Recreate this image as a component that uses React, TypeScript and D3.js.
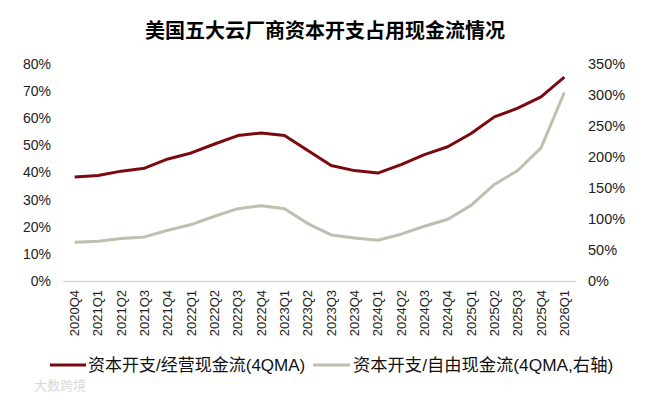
import React from "react";
import * as d3 from "d3";

// quarters on the x axis
const quarters = [
  "2020Q4", "2021Q1", "2021Q2", "2021Q3", "2021Q4", "2022Q1", "2022Q2", "2022Q3",
  "2022Q4", "2023Q1", "2023Q2", "2023Q3", "2023Q4", "2024Q1", "2024Q2", "2024Q3",
  "2024Q4", "2025Q1", "2025Q2", "2025Q3", "2025Q4", "2026Q1",
];

// capex / operating cash flow, 4QMA (left axis, %)
const capexToOcf = [
  38.3, 38.9, 40.5, 41.6, 45.0, 47.2, 50.5, 53.6, 54.6, 53.6, 48.1,
  42.6, 40.7, 39.8, 42.9, 46.6, 49.5, 54.4, 60.5, 63.7, 67.9, 75.2,
];

// capex / free cash flow, 4QMA (right axis, %)
const capexToFcf = [
  62.6, 64.2, 68.5, 71.1, 81.9, 91.0, 104.4, 116.7, 121.5, 116.7, 92.6,
  74.3, 69.5, 65.8, 75.5, 88.3, 99.5, 122.0, 155.7, 178.2, 214.6, 304.0,
];

const leftTicks = [0, 10, 20, 30, 40, 50, 60, 70, 80];
const rightTicks = [0, 50, 100, 150, 200, 250, 300, 350];

const W = 648;
const H = 400;
const font = "'Liberation Sans', Arial, 'Noto Sans CJK SC', sans-serif";
const red = "#7a0a0f";
const grey = "#bfbfb0";

export default function App() {
  const x = d3.scaleBand().domain(quarters).range([63, 576]);
  const yL = d3.scaleLinear().domain([0, 80]).range([281, 64]);
  const yR = d3.scaleLinear().domain([0, 350]).range([281, 64]);
  const cx = (q: string) => (x(q) as number) + x.bandwidth() / 2;

  const lineL = d3.line<number>()
    .x((_, i) => cx(quarters[i]))
    .y((d) => yL(d));
  const lineR = d3.line<number>()
    .x((_, i) => cx(quarters[i]))
    .y((d) => yR(d));

  return (
    <svg width={W} height={H} style={{ position: "absolute", left: 0, top: 0, background: "#fff" }}
      fontFamily={font}>
      <text x={325} y={38} textAnchor="middle" fontSize={20} fontWeight="bold" fill="#000">
        美国五大云厂商资本开支占用现金流情况
      </text>

      {leftTicks.map((t) => (
        <text key={"l" + t} x={51} y={yL(t)} dy="0.35em" textAnchor="end" fontSize={14} fill="#222">
          {t}%
        </text>
      ))}
      {rightTicks.map((t) => (
        <text key={"r" + t} x={588} y={yR(t)} dy="0.35em" textAnchor="start" fontSize={14.5} fill="#222">
          {t}%
        </text>
      ))}

      <line x1={63} x2={576} y1={281.5} y2={281.5} stroke="#d9d9d9" strokeWidth={1.5} />

      {quarters.map((q) => (
        <text key={q} transform={`translate(${cx(q) + 4.5},290) rotate(-90)`} textAnchor="end"
          fontSize={13} fill="#222">
          {q}
        </text>
      ))}

      <path d={lineR(capexToFcf) || ""} fill="none" stroke={grey} strokeWidth={3} strokeLinejoin="round" />
      <path d={lineL(capexToOcf) || ""} fill="none" stroke={red} strokeWidth={3} strokeLinejoin="round" />

      <line x1={50} x2={86} y1={365} y2={365} stroke={red} strokeWidth={3} />
      <text x={88} y={371} fontSize={17} fill="#111">资本开支/经营现金流(4QMA)</text>
      <line x1={313} x2={350} y1={365} y2={365} stroke={grey} strokeWidth={3} />
      <text x={353} y={371} fontSize={17.3} fill="#111">资本开支/自由现金流(4QMA,右轴)</text>

      <text x={34} y={390} fontSize={13} fill="#d8d8d8">大数跨境</text>
    </svg>
  );
}
